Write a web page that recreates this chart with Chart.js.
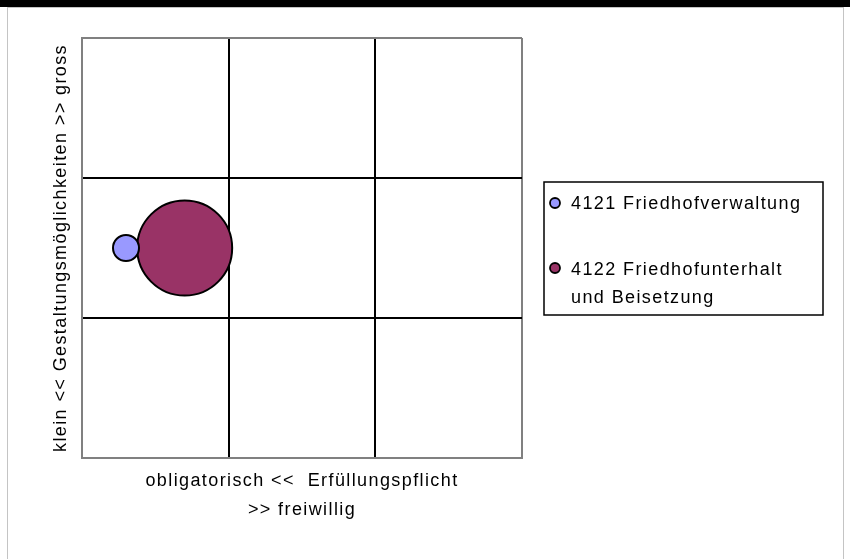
<!DOCTYPE html>
<html>
<head>
<meta charset="utf-8">
<script src="https://cdn.jsdelivr.net/npm/chart.js@4/dist/chart.umd.min.js"></script>
<style>
  html, body { margin: 0; padding: 0; background: #fff; }
  body { width: 850px; height: 559px; position: relative; overflow: hidden; }
  #band { position: absolute; left: 0; top: 0; width: 850px; height: 7px; background: #000; }
  #frame { position: absolute; left: 7px; top: 7px; width: 835px; height: 600px; border: 1px solid #c4c4c4; }
  #wrap { position: absolute; left: 0; top: 0; width: 850px; height: 559px; }
</style>
</head>
<body>
<div id="band"></div>
<div id="frame"></div>
<div id="wrap"><canvas id="myChart"></canvas></div>
<script>
// data
const seriesNames = [['4121 Friedhofverwaltung'], ['4122 Friedhofunterhalt', 'und Beisetzung']];
const xValues = [0.3, 0.7];
const yValues = [1.5, 1.5];
const bubbleRadius = [13, 47.5];
const seriesColors = ['#9999ff', '#993366'];
const xTitle = ['obligatorisch <<  Erfüllungspflicht', '>> freiwillig'];
const yTitle = 'klein << Gestaltungsmöglichkeiten >> gross';

const FONT = "'Liberation Sans', Arial, sans-serif";
const SPACING = '1.4px';

const datasets = seriesNames.map((name, i) => ({
  label: name,
  data: [{ x: xValues[i], y: yValues[i], r: bubbleRadius[i] }],
  backgroundColor: seriesColors[i],
  borderColor: '#000',
  borderWidth: 2
}));

const gridColor = ctx => (ctx.tick.value === 0 || ctx.tick.value === 3) ? '#808080' : '#000';

// wider letter spacing like the original, applied to all canvas text
const spacing = {
  id: 'spacing',
  beforeDraw(chart) { chart.ctx.letterSpacing = SPACING; }
};

// legend drawn by hand so the second entry can wrap onto two lines
const boxLegend = {
  id: 'boxLegend',
  afterDraw(chart) {
    const ctx = chart.ctx;
    ctx.save();
    ctx.letterSpacing = SPACING;
    ctx.strokeStyle = '#000';
    ctx.lineWidth = 1.5;
    ctx.strokeRect(544, 182, 279, 133);
    ctx.font = '18px ' + FONT;
    ctx.textBaseline = 'alphabetic';
    const rows = [{ my: 203, base: 209 }, { my: 268, base: 275 }];
    chart.data.datasets.forEach((ds, i) => {
      ctx.beginPath();
      ctx.arc(555, rows[i].my, 5, 0, Math.PI * 2);
      ctx.fillStyle = ds.backgroundColor;
      ctx.fill();
      ctx.lineWidth = 1.8;
      ctx.strokeStyle = '#000';
      ctx.stroke();
      ctx.fillStyle = '#000';
      ds.label.forEach((line, j) => {
        ctx.fillText(line, 571, rows[i].base + j * 28);
      });
    });
    ctx.restore();
  }
};

const ctx = document.getElementById('myChart').getContext('2d');

new Chart(ctx, {
  type: 'bubble',
  data: { datasets: datasets },
  options: {
    responsive: true,
    maintainAspectRatio: false,
    animation: false,
    layout: { autoPadding: false, padding: { top: 38, right: 328, left: 0, bottom: 0 } },
    plugins: {
      legend: { display: false },
      tooltip: { enabled: false }
    },
    scales: {
      x: {
        min: 0, max: 3,
        ticks: { display: false, stepSize: 1 },
        grid: { color: gridColor, lineWidth: 2, drawTicks: false },
        border: { color: '#808080', width: 2 },
        title: {
          display: true,
          text: xTitle,
          color: '#000',
          font: { family: FONT, size: 18, lineHeight: 1.64 },
          padding: { top: 0, bottom: 34 }
        },
        afterFit(scale) { scale.height = 101; }
      },
      y: {
        min: 0, max: 3,
        ticks: { display: false, stepSize: 1 },
        grid: { color: gridColor, lineWidth: 2, drawTicks: false },
        border: { color: '#808080', width: 2 },
        title: {
          display: true,
          text: yTitle,
          color: '#000',
          font: { family: FONT, size: 18 },
          padding: { top: 50, bottom: 0 }
        },
        afterFit(scale) { scale.width = 82; }
      }
    }
  },
  plugins: [spacing, boxLegend]
});
</script>
</body>
</html>
